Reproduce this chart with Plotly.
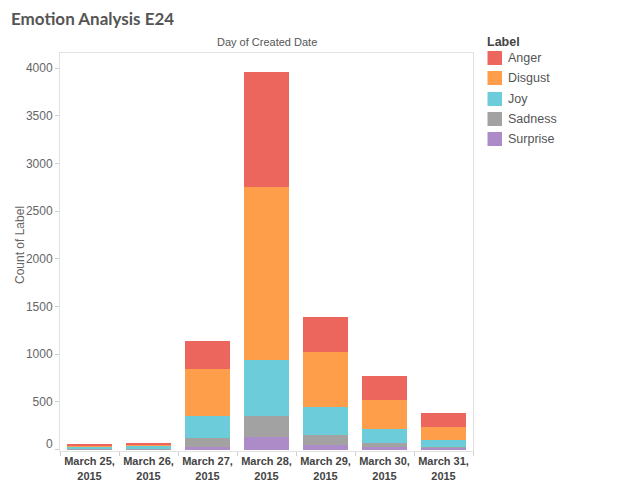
import plotly.graph_objects as go

dates = ["March 25,<br>2015", "March 26,<br>2015", "March 27,<br>2015", "March 28,<br>2015",
         "March 29,<br>2015", "March 30,<br>2015", "March 31,<br>2015"]
labels = ["Surprise", "Sadness", "Joy", "Disgust", "Anger"]
surprise = [4, 3, 30, 135, 44, 30, 19]
sadness = [5, 4, 95, 220, 108, 41, 11]
joy = [15, 40, 225, 580, 290, 147, 73]
disgust = [21, 2, 490, 1816, 580, 301, 130]
anger = [14, 10, 300, 1207, 367, 255, 146]
colors = ["#AD8BC9", "#A2A2A2", "#6DCCDA", "#FF9E4A", "#ED665D"]
y_ticks = [0, 500, 1000, 1500, 2000, 2500, 3000, 3500, 4000]

series = [surprise, sadness, joy, disgust, anger]

fig = go.Figure()
for name, vals, col in zip(labels, series, colors):
    fig.add_trace(go.Bar(x=dates, y=vals, name=name, marker_color=col,
                         marker_line_width=0, showlegend=False))

OFF = 8  # page body margin
W, H = 621 - OFF, 480 - OFF
x0, x1, y0, y1 = 60, 473, 53, 451  # plot area in page pixels
ml, mr, mt, mb = x0 - OFF, W - (x1 - OFF), y0 - OFF, H - (y1 - OFF)
ph = y1 - y0
pw = x1 - x0


def py(pix):
    return (y1 - pix) / ph


def px(pix):
    return (pix - x0) / pw


fig.update_layout(
    width=W, height=H,
    margin=dict(l=ml, r=mr, t=mt, b=mb),
    barmode="stack", bargap=0.25,
    plot_bgcolor="white", paper_bgcolor="white",
    font=dict(family="Liberation Sans, Arial, sans-serif", size=12, color="#666"),
    showlegend=False,
)
fig.update_xaxes(showline=True, linecolor="#e2e2e2", mirror=True, ticks="outside",
                 tickson="boundaries", ticklen=4, tickcolor="#d0d0d0", tickangle=0,
                 automargin=False,
                 tickfont=dict(size=11, color="#444", weight="bold"), showgrid=False)
fig.update_yaxes(range=[-15, 4160], showline=True, linecolor="#e2e2e2", mirror=True,
                 ticks="outside", ticklen=4, tickcolor="#d0d0d0", showgrid=False,
                 zeroline=False, tickvals=y_ticks, automargin=False,
                 ticktext=[""] + [str(v) for v in y_ticks[1:]],
                 tickfont=dict(size=12, color="#666"))

fig.add_annotation(text="Emotion Analysis E24", xref="paper", yref="paper", x=px(9),
                   xanchor="left", y=py(18), yanchor="middle", showarrow=False,
                   font=dict(family="Lato, sans-serif", size=17, color="#555", weight="bold"))
fig.add_annotation(text="0", xref="paper", yref="paper", x=px(55), xanchor="right",
                   y=py(444), yanchor="middle", showarrow=False,
                   font=dict(size=12, color="#666"))
fig.add_annotation(text="Day of Created Date", xref="paper", yref="paper", x=0.5,
                   y=py(42), yanchor="middle", showarrow=False,
                   font=dict(size=11, color="#555"))
fig.add_annotation(text="Count of Label", xref="paper", yref="paper",
                   x=px(20), xanchor="center", y=py(245), yanchor="middle", textangle=-90,
                   showarrow=False, font=dict(size=12, color="#666"))

# legend (top to bottom: Anger ... Surprise)
fig.add_annotation(text="<b>Label</b>", xref="paper", yref="paper", x=px(485),
                   xanchor="left", y=py(42), yanchor="middle", showarrow=False,
                   font=dict(size=12.5, color="#444"))
row_centers = [58, 78, 99, 119, 139]
for i, (name, col) in enumerate(zip(labels[::-1], colors[::-1])):
    cy = row_centers[i]
    fig.add_shape(type="rect", xref="paper", yref="paper",
                  x0=px(487.5), x1=px(502), y0=py(cy + 7), y1=py(cy - 7),
                  fillcolor=col, line=dict(width=0))
    fig.add_annotation(text=name, xref="paper", yref="paper", x=px(506),
                       xanchor="left", y=py(cy), yanchor="middle", showarrow=False,
                       font=dict(size=12.5, color="#555"))

fig.write_html("out.html")
